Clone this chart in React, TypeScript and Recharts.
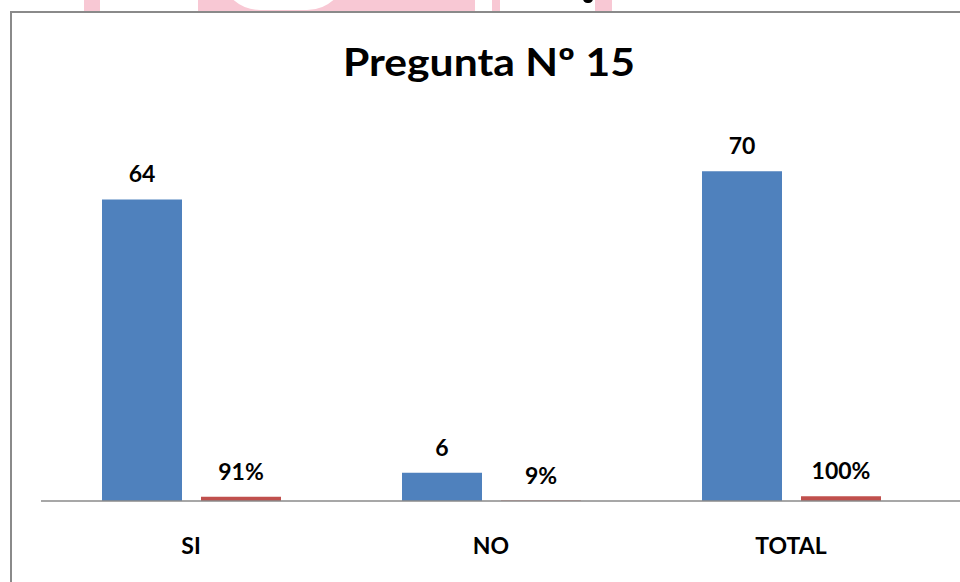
import { BarChart, Bar, XAxis, YAxis } from 'recharts'

const categories = ['SI', 'NO', 'TOTAL']
const counts = [64, 6, 70]
const shares = [0.91, 0.09, 1]

const data = categories.map((name, i) => ({ name, count: counts[i], share: shares[i] }))

const font = 'Lato, "Open Sans", sans-serif'
const pink = '#f8c8d4'

function CategoryTick({ x, y, payload }: { x?: number; y?: number; payload?: { value: string } }) {
  return (
    <text x={x} y={(y ?? 0) + 53} textAnchor="middle" fontFamily={font} fontWeight={700} fontSize={23} fill="#000">
      {payload?.value}
    </text>
  )
}

// value labels drawn above each bar, from the bar geometry recharts hands over
const barLabel = (fmt: (v: number) => string) =>
  ({ x, y, width, value }: { x?: number; y?: number; width?: number; value?: number }) => (
    <text x={Number(x) + Number(width) / 2} y={Number(y) - 17} textAnchor="middle"
      fontFamily={font} fontWeight={700} fontSize={23} fill="#000">
      {fmt(Number(value))}
    </text>
  )

const plain = (v: number) => String(v)
const pct = (v: number) => `${Math.round(v * 100)}%`

export default function App() {
  return (
    <div style={{ position: 'fixed', left: 0, top: 0, width: 960, height: 582, overflow: 'hidden', background: '#fff' }}>
      {/* watermark scraps above the chart frame */}
      <div style={{ position: 'absolute', left: 84, top: 0, width: 16, height: 11, background: pink }} />
      <div style={{ position: 'absolute', left: 198, top: 0, width: 277, height: 11, background: pink }} />
      <div style={{ position: 'absolute', left: 220, top: -30, width: 127, height: 40, background: '#fff', borderRadius: '0 0 60px 60px' }} />
      <div style={{ position: 'absolute', left: 492, top: 0, width: 8, height: 11, background: pink }} />
      <div style={{ position: 'absolute', left: 595, top: 0, width: 17, height: 11, background: pink }} />
      <div style={{ position: 'absolute', left: 583, top: -6, width: 10, height: 9, borderRadius: 5, background: '#000' }} />

      <div style={{ position: 'absolute', left: 10, top: 11, width: 1000, height: 1000, border: '2px solid #8a8a8a' }} />

      <div style={{ position: 'absolute', left: 0, top: 0 }}>
        <BarChart width={960} height={582} data={data} margin={{ top: 124, right: 0, left: 41, bottom: 0 }}
          barGap={19} barSize={80}>
          <XAxis dataKey="name" height={81} tickLine={false} tickSize={0} tickMargin={0}
            axisLine={{ stroke: '#8a8a8a', strokeWidth: 1.5 }} padding={{ left: 0, right: 19 }}
            tick={<CategoryTick />} interval={0} />
          <YAxis hide domain={[0, 80]} />
          <Bar dataKey="count" fill="#4f81bd" isAnimationActive={false} label={barLabel(plain)} />
          <Bar dataKey="share" fill="#c0504d" isAnimationActive={false} label={barLabel(pct)} />
        </BarChart>
      </div>

      <svg width={960} height={100} style={{ position: 'absolute', left: 0, top: 0 }}>
        <text x={489} y={76} textAnchor="middle" fontFamily={font} fontWeight={700} fontSize={39}
          textLength={292} lengthAdjust="spacingAndGlyphs" fill="#000">
          Pregunta Nº 15
        </text>
      </svg>
    </div>
  )
}
